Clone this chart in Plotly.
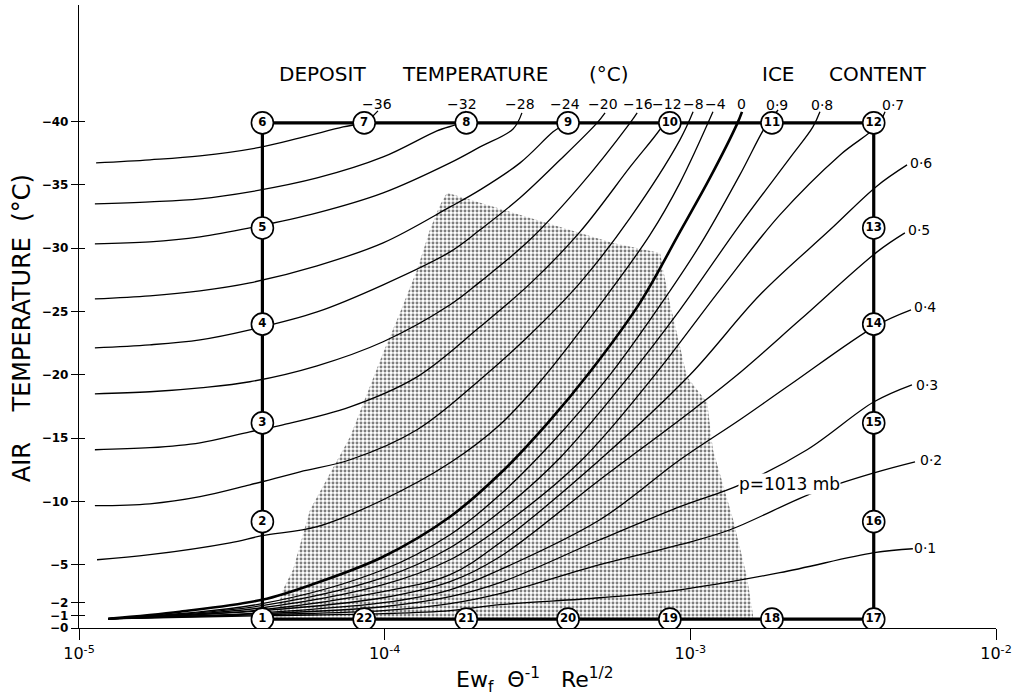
import plotly.graph_objects as go

# ---------------- data ----------------
# x: log10(Ew_f * Theta^-1 * Re^1/2), y: air temperature (deg C)

dep_labels = ["-36", "-32", "-28", "-24", "-20", "-16", "-12", "-8", "-4", "0"]
dep_lx = [
    [-4.944, -4.768, -4.604, -4.401, -4.277, -4.136, -4.064, -4.022],
    [-4.948, -4.768, -4.604, -4.441, -4.221, -4.005, -3.829, -3.744, -3.734],
    [-4.948, -4.768, -4.604, -4.441, -4.221, -4.005, -3.786, -3.688, -3.580, -3.551],
    [-4.948, -4.768, -4.604, -4.441, -4.221, -4.005, -3.786, -3.688, -3.557, -3.449, -3.404, -3.394],
    [-4.948, -4.768, -4.604, -4.441, -4.221, -4.005, -3.786, -3.688, -3.557, -3.426, -3.305, -3.279],
    [-4.948, -4.768, -4.604, -4.441, -4.221, -4.005, -3.786, -3.688, -3.525, -3.361, -3.197, -3.174],
    [-4.948, -4.768, -4.604, -4.441, -4.333, -4.113, -3.894, -3.688, -3.525, -3.361, -3.197, -3.083, -3.073],
    [-4.948, -4.768, -4.604, -4.441, -4.277, -4.113, -3.894, -3.688, -3.525, -3.361, -3.197, -3.034, -2.991],
    [-4.941, -4.768, -4.506, -4.401, -4.221, -4.005, -3.786, -3.623, -3.492, -3.296, -3.132, -3.034, -2.926],
    [-4.905, -4.670, -4.401, -4.221, -4.005, -3.786, -3.623, -3.469, -3.328, -3.165, -3.034, -2.936, -2.847, -2.831],
]
dep_t = [
    [-36.74, -36.98, -37.29, -38.00, -38.71, -39.58, -39.98, -40.85],
    [-33.50, -33.66, -33.90, -34.45, -35.55, -37.21, -39.27, -40.06, -40.85],
    [-30.34, -30.50, -30.90, -31.61, -32.79, -34.37, -36.74, -38.00, -39.42, -40.69],
    [-26.00, -26.24, -26.63, -27.26, -28.61, -30.42, -33.26, -34.61, -36.74, -39.19, -39.98, -40.77],
    [-22.13, -22.37, -22.76, -23.55, -24.97, -27.11, -29.71, -31.45, -33.98, -36.98, -39.90, -40.69],
    [-18.50, -18.66, -18.97, -19.45, -20.71, -22.61, -25.53, -27.34, -30.66, -34.92, -39.90, -40.69],
    [-14.08, -14.24, -14.63, -15.50, -16.05, -17.47, -19.84, -23.79, -27.18, -31.29, -36.42, -39.98, -40.77],
    [-9.66, -9.81, -10.37, -11.31, -12.34, -13.29, -15.66, -19.61, -23.16, -27.26, -32.40, -38.56, -40.77],
    [-5.39, -5.79, -6.73, -7.29, -8.00, -10.13, -13.05, -16.05, -19.45, -25.53, -31.05, -35.16, -40.77],
    [-0.73, -1.29, -2.23, -3.58, -5.63, -8.79, -12.18, -16.13, -20.24, -25.68, -31.29, -35.55, -39.82, -40.77],
]

ice_labels = ["0·9", "0·8", "0·7", "0·6", "0·5", "0·4", "0·3", "0·2", "0·1"]
ice_lx = [
    [-4.905, -4.401, -4.005, -3.786, -3.623, -3.459, -3.263, -3.132, -2.968, -2.838, -2.753, -2.713],
    [-4.905, -4.401, -4.005, -3.786, -3.623, -3.426, -3.197, -3.034, -2.838, -2.674, -2.599, -2.576],
    [-4.905, -4.401, -4.005, -3.786, -3.623, -3.361, -3.116, -2.903, -2.707, -2.510, -2.389, -2.363],
    [-4.905, -4.401, -4.005, -3.786, -3.623, -3.296, -3.001, -2.772, -2.543, -2.389, -2.291],
    [-4.905, -4.401, -4.005, -3.786, -3.623, -3.296, -3.034, -2.854, -2.641, -2.389, -2.298],
    [-4.905, -4.401, -4.005, -3.786, -3.623, -3.296, -3.034, -2.838, -2.674, -2.393, -2.278],
    [-4.905, -4.401, -4.005, -3.786, -3.623, -3.296, -3.034, -2.838, -2.618, -2.399, -2.275],
    [-4.905, -4.401, -4.005, -3.786, -3.623, -3.296, -3.034, -2.870, -2.599, -2.399, -2.265],
    [-4.905, -4.401, -4.005, -3.786, -3.623, -3.296, -3.034, -2.707, -2.399, -2.272],
]
ice_t = [
    [-0.73, -1.92, -4.60, -7.37, -10.52, -14.47, -20.00, -24.34, -30.26, -35.79, -39.66, -40.92],
    [-0.73, -1.76, -3.97, -6.34, -9.18, -13.45, -20.00, -25.13, -31.84, -37.13, -39.58, -40.77],
    [-0.73, -1.60, -3.42, -5.39, -7.92, -13.13, -20.00, -26.71, -32.63, -37.37, -39.66, -40.77],
    [-0.73, -1.44, -2.87, -4.21, -6.73, -13.29, -20.00, -26.32, -31.45, -34.92, -36.58],
    [-0.73, -1.37, -2.39, -3.66, -5.63, -11.71, -16.45, -19.84, -24.34, -29.71, -31.21],
    [-0.73, -1.21, -2.00, -3.02, -4.60, -8.55, -13.29, -16.45, -19.21, -23.87, -25.13],
    [-0.73, -1.13, -1.68, -2.47, -3.58, -6.97, -9.58, -11.31, -14.08, -17.87, -19.21],
    [-0.73, -1.05, -1.37, -1.92, -2.71, -5.00, -6.58, -7.76, -10.68, -12.26, -13.13],
    [-0.73, -0.97, -1.13, -1.37, -1.84, -2.39, -3.02, -4.37, -5.95, -6.26],
]

# numbered points 1..22 around the rectangle
pt_num = list(range(1, 23))
pt_lx = [-4.40] * 6 + [-4.067, -3.733, -3.40, -3.067, -2.733] + [-2.40] * 6 + \
        [-2.733, -3.067, -3.40, -3.733, -4.067]
pt_t = [-0.7, -8.4, -16.2, -24.0, -31.6, -39.9] + [-39.9] * 6 + \
       [-31.6, -24.0, -16.2, -8.4, -0.7] + [-0.7] * 5

# stippled region outline
shade_lx = [-4.359, -4.333, -4.300, -4.244, -4.113, -4.038, -4.005, -3.950, -3.894, -3.852,
            -3.819, -3.796, -3.688, -3.469, -3.253, -3.099, -3.089, -3.067, -3.011, -2.945,
            -2.926, -2.860, -2.815, -2.795, -2.795]
shade_t = [-0.73, -3.02, -4.60, -9.34, -15.10, -19.76, -21.74, -24.90, -28.29, -31.45,
           -33.42, -34.37, -33.58, -32.00, -30.42, -29.63, -28.29, -25.68, -19.84, -17.79,
           -14.08, -8.55, -4.05, -1.05, -0.73]

# y ticks
ytick_vals = [0, -1, -2, -5, -10, -15, -20, -25, -30, -35, -40]

def X(lst):
    return [10 ** v for v in lst]

TXT = "DejaVu Sans"

fig = go.Figure()

fig.add_trace(go.Scatter(
    x=X(shade_lx), y=shade_t, mode="lines", fill="toself",
    line=dict(width=0), fillcolor="rgba(0,0,0,0)",
    fillpattern=dict(shape=".", size=4, solidity=0.42, fgcolor="black", bgcolor="white"),
    hoverinfo="skip", showlegend=False))

for lab, xs, ys in zip(dep_labels, dep_lx, dep_t):
    fig.add_trace(go.Scatter(
        x=X(xs), y=ys, mode="lines",
        line=dict(color="black", width=2.6 if lab == "0" else 1.3,
                  shape="spline", smoothing=1.0),
        showlegend=False, hoverinfo="skip"))

for lab, xs, ys in zip(ice_labels, ice_lx, ice_t):
    fig.add_trace(go.Scatter(
        x=X(xs), y=ys, mode="lines",
        line=dict(color="black", width=1.3, shape="spline", smoothing=1.0),
        showlegend=False, hoverinfo="skip"))

order = list(range(22)) + [0]
fig.add_trace(go.Scatter(
    x=X([pt_lx[i] for i in order]), y=[pt_t[i] for i in order],
    mode="lines", line=dict(color="black", width=3.2),
    showlegend=False, hoverinfo="skip"))
fig.add_trace(go.Scatter(
    x=X(pt_lx), y=pt_t, mode="markers+text",
    marker=dict(size=22, color="white", line=dict(color="black", width=1.6)),
    text=[str(n) for n in pt_num], textposition="middle center",
    textfont=dict(family="DejaVu Sans Condensed, Liberation Sans Narrow", size=13,
                  color="black", weight="bold"),
    showlegend=False, hoverinfo="skip"))

# empty trace on the overlay axis that carries the inner half of the y ticks
fig.add_trace(go.Scatter(x=[], y=[], yaxis="y2", showlegend=False, hoverinfo="skip"))

# curve labels
lab_font = dict(family=TXT, size=14, color="black")
dep_lab_lx = [-4.025, -3.747, -3.557, -3.410, -3.286, -3.171, -3.076, -2.991, -2.919, -2.831]
for lab, lx in zip(dep_labels, dep_lab_lx):
    fig.add_annotation(x=lx, y=-41.4, text=lab.replace("-", "\u2212"),
                       showarrow=False, font=lab_font)
ice_lab_lx = [-2.717, -2.569, -2.337, -2.245, -2.252, -2.232, -2.226, -2.213, -2.232]
ice_lab_t = [-41.32, -41.32, -41.32, -36.75, -31.45, -25.37, -19.21, -13.29, -6.34]
for lab, lx, t in zip(ice_labels, ice_lab_lx, ice_lab_t):
    fig.add_annotation(x=lx, y=t, text=lab, showarrow=False, font=lab_font)

head_font = dict(family=TXT, size=20, color="black")
for word, lx in [("DEPOSIT", -4.202), ("TEMPERATURE", -3.705), ("(°C)", -3.266),
                 ("ICE", -2.710), ("CONTENT", -2.389)]:
    fig.add_annotation(x=lx, y=-43.77, text=word, showarrow=False, font=head_font)

fig.add_annotation(x=-2.674, y=-11.39, text="p=1013 mb", showarrow=False,
                   bgcolor="white", borderpad=0,
                   font=dict(family=TXT, size=17, color="black"))

# axis titles
fig.add_annotation(xref="paper", yref="paper", x=-0.062, y=0.4815,
                   xanchor="center", yanchor="middle",
                   text="AIR    TEMPERATURE  (°C)", textangle=-90, showarrow=False,
                   font=dict(family=TXT, size=24, color="black"))
fig.add_annotation(xref="paper", yref="paper", x=0.497, y=-0.083,
                   xanchor="center", yanchor="middle",
                   text="Ew<sub>f</sub>  \u0398<sup>-1</sup>   Re<sup>1/2</sup>",
                   showarrow=False, font=dict(family=TXT, size=22, color="black"))

fig.update_layout(
    width=1021, height=698, margin=dict(l=79, r=25, t=5, b=70),
    paper_bgcolor="white", plot_bgcolor="white",
    xaxis=dict(type="log", range=[-5, -2], showgrid=False, zeroline=False,
               showline=True, linecolor="black", linewidth=1.4,
               tickvals=[1e-5, 1e-4, 1e-3, 1e-2],
               ticktext=["10<sup>-5</sup>", "10<sup>-4</sup>", "10<sup>-3</sup>", "10<sup>-2</sup>"],
               ticks="outside", ticklen=11, tickcolor="black", tickwidth=1.4,
               tickfont=dict(family=TXT, size=16, color="black")),
    yaxis=dict(range=[0, -49.21], showgrid=False, zeroline=False,
               showline=True, linecolor="black", linewidth=1.4,
               tickvals=ytick_vals,
               ticktext=["\u2212" + str(abs(v)) for v in ytick_vals],
               ticks="outside", ticklen=7, tickcolor="black", tickwidth=1.4,
               tickfont=dict(family=TXT, size=12, color="black", weight="bold")),
    yaxis2=dict(range=[0, -49.21], overlaying="y", side="left", anchor="x",
                showgrid=False, zeroline=False, showline=False,
                tickvals=ytick_vals, showticklabels=False,
                ticks="inside", ticklen=6, tickcolor="black", tickwidth=1.4),
)

fig.write_html("out.html")
